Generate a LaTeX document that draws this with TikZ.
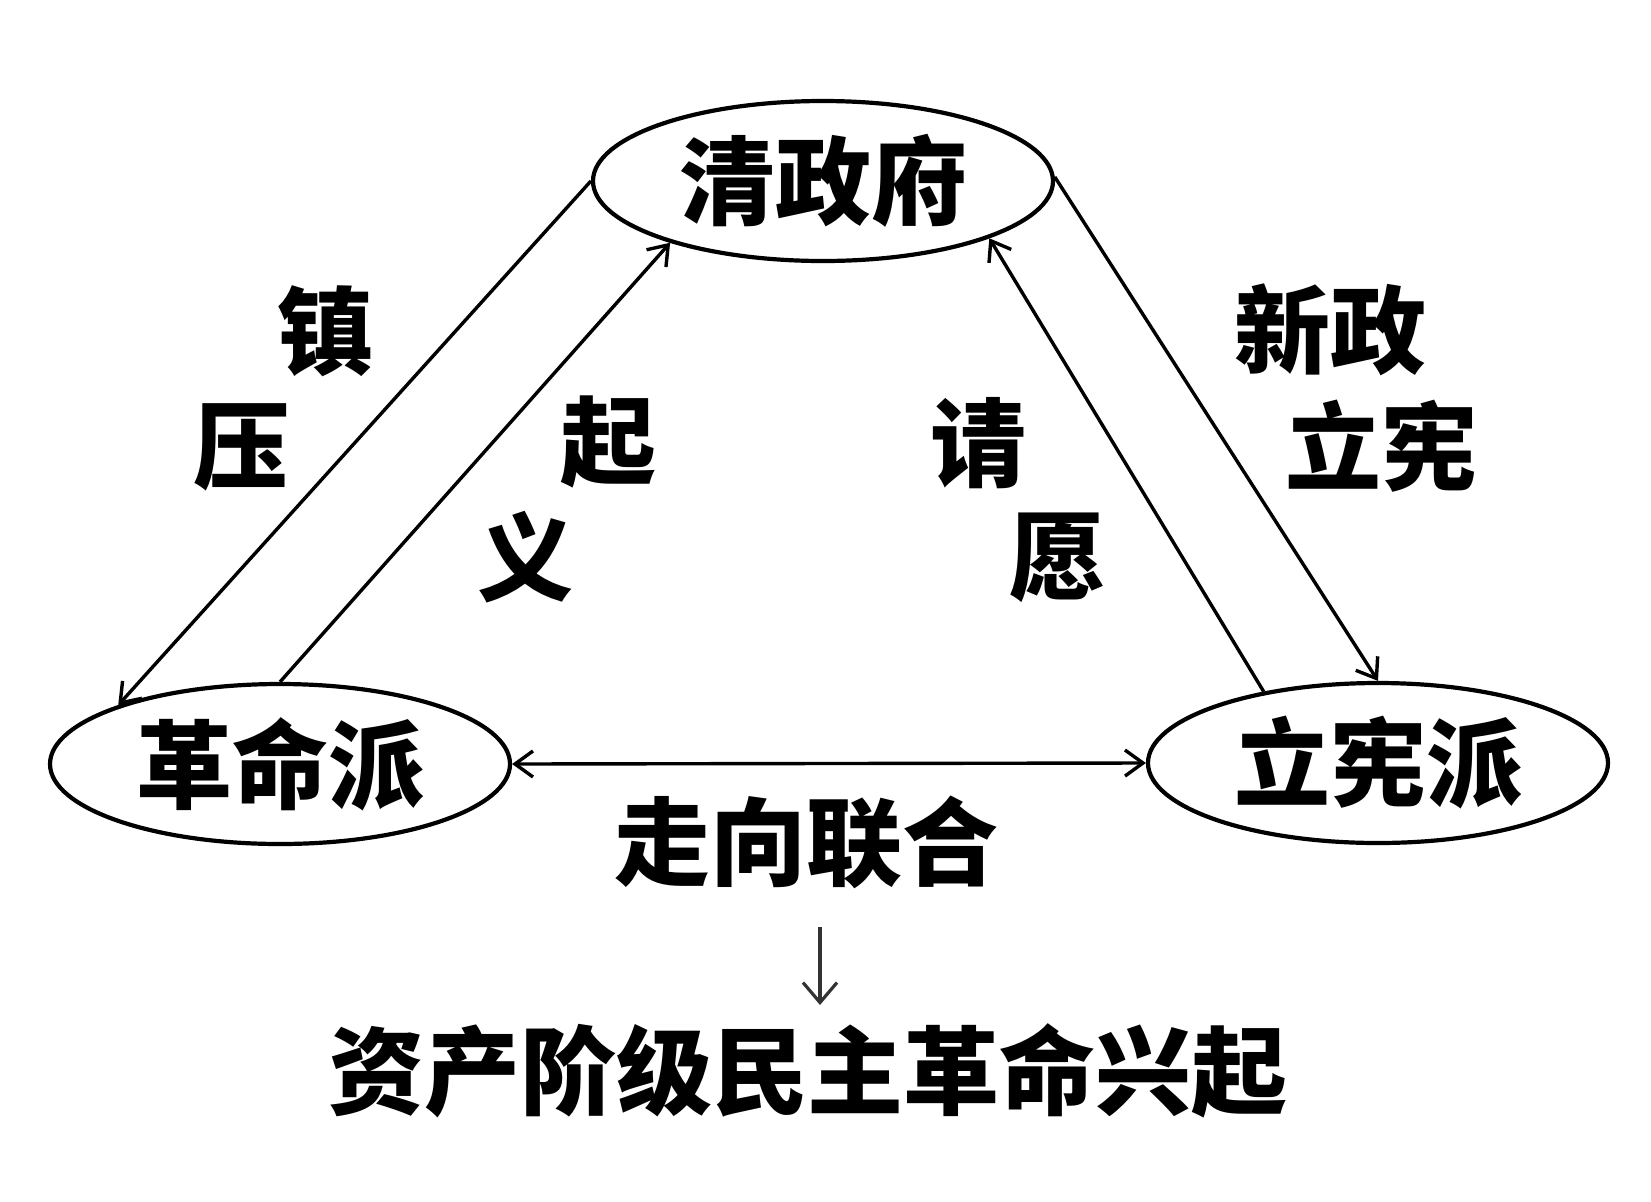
\documentclass[tikz,border=0pt]{standalone}
\usepackage{fontspec}
\newfontfamily\cjk{Noto Sans CJK SC}
\usetikzlibrary{shapes.geometric,arrows.meta}
\begin{document}
\begin{tikzpicture}[x=0.5pt,y=-0.5pt,
  cjkfont/.style={font=\cjk\bfseries\fontsize{48pt}{56pt}\selectfont},
  party/.style={ellipse,draw,fill=white,line width=2.1pt,minimum width=230pt,minimum height=80pt,inner sep=0pt,cjkfont},
  lbl/.style={inner sep=0pt,cjkfont},
  tip/.style={Straight Barb[length=9pt,width=13pt,line width=1.7pt]},
  conn/.style={line width=1.7pt,-{Straight Barb[length=9pt,width=13pt,line width=1.7pt]}},
  both/.style={line width=1.7pt,{Straight Barb[length=9pt,width=13pt,line width=1.7pt]}-{Straight Barb[length=9pt,width=13pt,line width=1.7pt]}},
  down/.style={line width=1.6pt,draw=black!80,-{Straight Barb[length=10pt,width=17pt,line width=1.6pt]}}
]
\useasboundingbox (0,0) rectangle (1651,1201);
\fill[white] (0,0) rectangle (1651,1201);

\node[party] (qing) at (823,181) {清政府};
\node[party] (geming) at (280,764) {革命派};
\node[party] (lixian) at (1378,763) {立宪派};

\draw[conn] (qing.180) -- (geming.160);
\draw[conn] (geming.90) -- (qing.202);
\draw[conn] (lixian.148) -- (qing.341);
\draw[conn] (qing.1) -- (lixian.90);
\draw[both] (geming.east) -- (lixian.west);

\node[lbl] (zhen) at (325,331) {镇};
\node[lbl] (ya) at (241,447) {压};
\node[lbl] (qi) at (608,442) {起};
\node[lbl] (yi) at (525,557) {义};
\node[lbl] (qing2) at (978,443) {请};
\node[lbl] (yuan) at (1057,558) {愿};
\node[lbl] (xinzheng) at (1330,330) {新政};
\node[lbl] (lixian2) at (1381,446) {立宪};

\node[lbl] (unite) at (806,842) {走向联合};
\node[lbl] (result) at (808,1071) {资产阶级民主革命兴起};

\coordinate (d1) at (820,927);
\coordinate (d2) at (820,1005);
\draw[down] (d1) -- (d2);
\end{tikzpicture}
\end{document}
